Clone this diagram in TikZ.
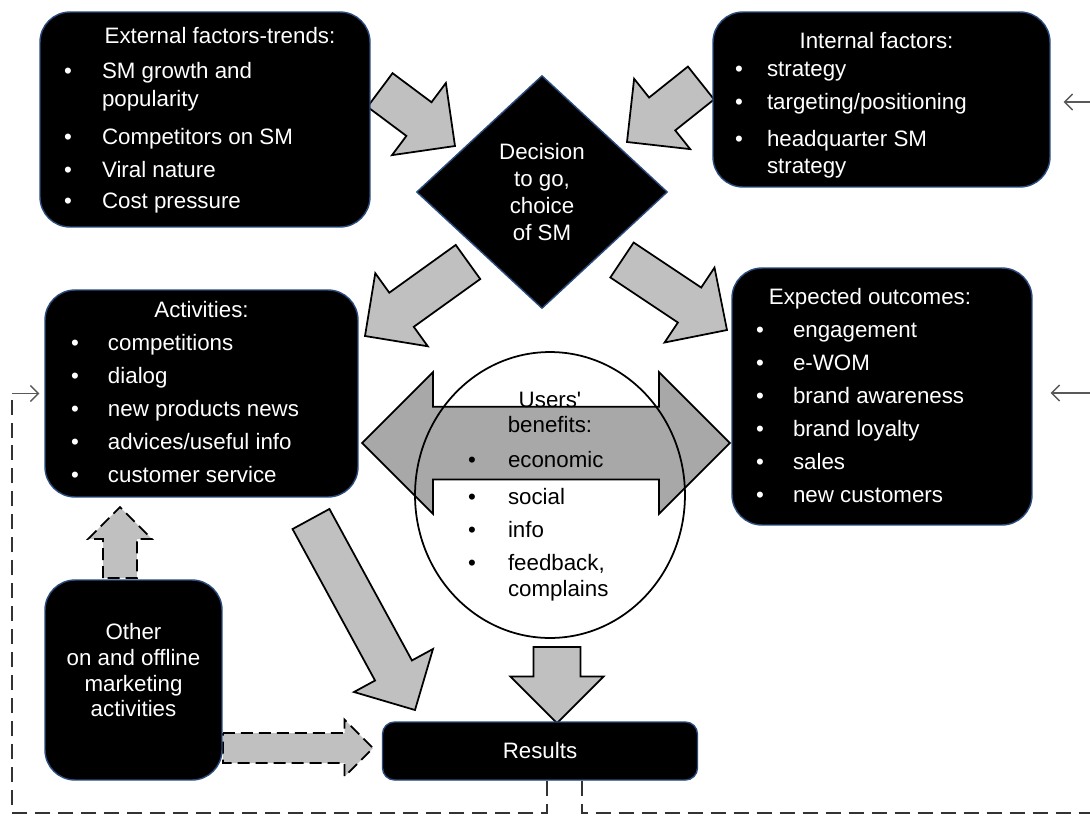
\documentclass[tikz,border=0pt]{standalone}
\usepackage{fontspec}
\setmainfont{Liberation Sans}
\usetikzlibrary{shapes.geometric,shapes.arrows,calc,arrows.meta}
\definecolor{boxrim}{HTML}{2B4C7E}
\definecolor{arrowgray}{HTML}{C0C0C0}
\definecolor{benefitgray}{HTML}{A8A8A8}
\definecolor{loopgray}{HTML}{333333}
\newcommand{\listfont}{\fontsize{12.7}{18.8}\selectfont}
\newcommand{\blockarrow}[5][]{%
  \coordinate (ba-h) at ($(#3)!#5!(#2)$);
  \filldraw[blockarrow, #1] ($(#2)!#4!90:(#3)$) -- ($(ba-h)!#4!90:(#3)$)
    -- ($(ba-h)!#5!90:(#3)$) -- (#3) -- ($(ba-h)!#5!-90:(#3)$)
    -- ($(ba-h)!#4!-90:(#3)$) -- ($(#2)!#4!-90:(#3)$) -- cycle;
}
\tikzset{
  blackbox/.style={fill=black, draw=boxrim, line width=0.8pt, rounded corners=6mm,
    text=white, font=\listfont, inner sep=0pt},
  blockarrow/.style={draw=black, line width=1pt, fill=arrowgray, line join=miter},
  dasharrow/.style={dash pattern=on 2.4mm off 1.2mm},
  feedback/.style={draw=loopgray, line width=1.4pt, dash pattern=on 3mm off 1.6mm},
  thinarrow/.style={draw=black!65, line width=0.8pt, -{Straight Barb[length=1.6mm, width=3.2mm]}},
}
\begin{document}
\begin{tikzpicture}[x=0.02cm, y=-0.02cm]
    \useasboundingbox (0,0) rectangle (1090,816);
    \fill[white] (0,0) rectangle (1090,816);

    \coordinate (extout) at (380,90);     \coordinate (decinL) at (455,146);
    \coordinate (intout) at (701,83);     \coordinate (decinR) at (627,142);
    \coordinate (decoutL) at (468,262);   \coordinate (actin) at (365,336);
    \coordinate (decoutR) at (622,260);   \coordinate (expin) at (727,330);
    \coordinate (actout) at (311,519);    \coordinate (resinL) at (415,710);
    \coordinate (usersout) at (557,647);  \coordinate (resinT) at (557,723);
    \coordinate (otherup) at (120,578);   \coordinate (actinB) at (120,507);
    \coordinate (otherout) at (223,748);  \coordinate (resinW) at (373,748);

    \foreach \a/\b in {extout/decinL, intout/decinR, decoutL/actin, decoutR/expin,
                       actout/resinL} {
        \blockarrow{\a}{\b}{4.2mm}{9mm}
    };
    \blockarrow{usersout}{resinT}{4.7mm}{9.3mm}
    \blockarrow[dasharrow]{otherup}{actinB}{3.4mm}{6.4mm}
    \blockarrow[dasharrow]{otherout}{resinW}{3mm}{5.7mm}

    \node[blackbox, minimum width=66mm, minimum height=43mm] (ext) at (205,119.5) {%
        \begin{tabular}{@{}p{7.6mm}@{}p{48.8mm}@{}}
            \multicolumn{2}{@{\hspace{6mm}}c@{}}{External factors-trends:}\\[0.4mm]
            \textbullet & SM growth and\\[-1mm]
                        & popularity\\[1mm]
            \textbullet & Competitors on SM\\
            \textbullet & Viral nature\\[-0.4mm]
            \textbullet & Cost pressure
        \end{tabular}};
    \node[blackbox, minimum width=67.4mm, minimum height=35mm] (int) at (881.5,99.5) {%
        \begin{tabular}{@{}p{6.4mm}@{}p{52.2mm}@{}}
            \multicolumn{2}{@{}c@{\hspace{2mm}}}{\rule{0pt}{6.6mm}Internal factors:}\\[-1mm]
            \textbullet & strategy\\
            \textbullet & targeting/positioning\\[0.8mm]
            \textbullet & headquarter SM\\[-1.2mm]
                        & strategy
        \end{tabular}};
    \node[blackbox, minimum width=62.6mm, minimum height=41.4mm] (act) at (201.5,393.5) {%
        \begin{tabular}{@{}p{7.4mm}@{}p{44.8mm}@{}}
            \multicolumn{2}{@{}c@{}}{Activities:}\\
            \textbullet & competitions\\
            \textbullet & dialog\\
            \textbullet & new products news\\
            \textbullet & advices/useful info\\
            \textbullet & customer service
        \end{tabular}};
    \node[blackbox, minimum width=60mm, minimum height=51.4mm] (exp) at (882,396.5) {%
        \begin{tabular}{@{}p{7.4mm}@{}p{43mm}@{}}
            \multicolumn{2}{@{}c@{\hspace{4.8mm}}}{Expected outcomes:}\\
            \textbullet & engagement\\
            \textbullet & e-WOM\\
            \textbullet & brand awareness\\
            \textbullet & brand loyalty\\
            \textbullet & sales\\
            \textbullet & new customers
        \end{tabular}};
    \node[blackbox, minimum width=35.4mm, minimum height=40mm, align=center,
          font=\fontsize{12.7}{14.7}\selectfont] (other) at (133.5,680) {%
        Other\\on and offline\\marketing\\activities\rule[-4mm]{0pt}{0pt}};
    \node[blackbox, rounded corners=2.4mm, minimum width=63mm, minimum height=11.6mm]
        (results) at (540,751) {Results};
    \node[blackbox, diamond, rounded corners=0pt, minimum width=50.2mm, minimum height=46.6mm,
          align=center, font=\fontsize{12.7}{15.3}\selectfont] (dec) at (542,192) {%
        Decision\\to go,\\choice\\of SM};

    \node[double arrow, draw=black, line width=1pt, fill=benefitgray, inner sep=7.1mm,
          minimum height=73.6mm, double arrow head extend=6.9mm]
        (benefits) at (546,443) {};
    \node[ellipse, draw=black, line width=1pt, minimum width=54mm, minimum height=57.2mm,
          inner sep=0pt] (users) at (550,495) {};
    \node[font=\listfont, inner sep=0pt] (userstext) at (users.center) {%
        \begin{tabular}{@{}p{8mm}@{}p{24.8mm}@{}}
            \multicolumn{2}{@{}c@{}}{Users\textquotesingle}\\[-1.6mm]
            \multicolumn{2}{@{}c@{}}{benefits:}\\[0.4mm]
            \textbullet & economic\\[0.8mm]
            \textbullet & social\\
            \textbullet & info\\
            \textbullet & feedback,\\[-1.4mm]
                        & complains
        \end{tabular}};

    \coordinate (loopBL) at (12,813);
    \coordinate (loopBR) at (1100,813);
    \coordinate (fbint) at (1090,102);
    \coordinate (fbexp) at (1090,393);
    \draw[feedback] ($(results.south)+(7,0)$) |- (loopBL) -- (loopBL |- act.west) coordinate (loopTL);
    \draw[feedback] ($(results.south)+(42,0)$) |- (loopBR);
    \draw[thinarrow, shorten >=1mm] (loopTL) -- (act.west);
    \draw[thinarrow, shorten >=2.6mm] (fbint) -- (fbint -| int.east);
    \draw[thinarrow, shorten >=3.6mm] (fbexp) -- (fbexp -| exp.east);
\end{tikzpicture}
\end{document}
